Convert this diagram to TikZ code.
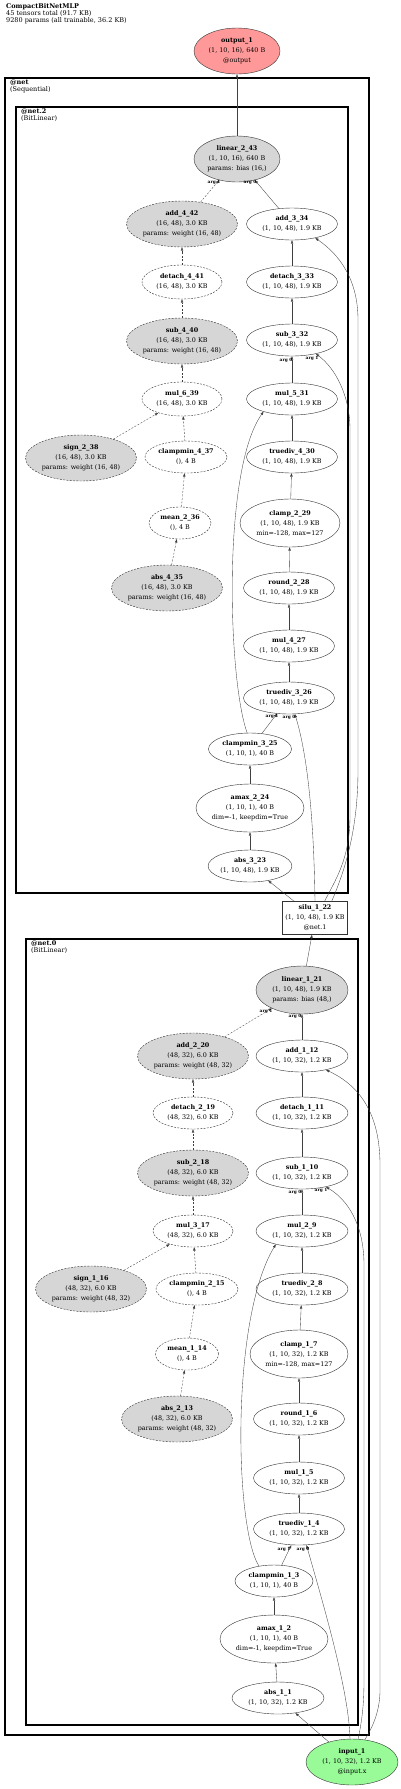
\documentclass[tikz,border=0pt]{standalone}
\usepackage{fontspec}
\setmainfont{DejaVu Serif}
\usetikzlibrary{shapes.geometric,arrows.meta}
\definecolor{outred}{HTML}{FF9999}
\definecolor{ingreen}{HTML}{98FB98}
\definecolor{prmgray}{HTML}{D6D6D6}

\begin{document}
\begin{tikzpicture}[x=1pt,y=-1pt,>={Triangle[length=3.4pt,width=2.4pt]},
  op/.style={ellipse,draw=black!80,line width=0.4pt,fill=white,inner sep=0pt,minimum width=91pt,minimum height=32pt,align=center,font=\fontsize{6.4}{10}\selectfont},
  prm/.style={op,fill=prmgray,minimum width=110pt,minimum height=46pt},
  wop/.style={dash pattern=on 2pt off 1.3pt},
  flow/.style={->,line width=0.35pt,draw=black!75},
  wflow/.style={flow,dash pattern=on 2pt off 1.5pt},
  arglbl/.style={inner sep=0pt,font=\fontsize{4.3}{5}\bfseries},
  clabel/.style={anchor=north west,align=left,inner sep=0pt,font=\fontsize{6.5}{7.2}\selectfont}]
  \useasboundingbox (0,0) rectangle (400,1789);

  \node[clabel] (title) at (6,3) {\textbf{CompactBitNetMLP}\\45 tensors total (91.7 KB)\\9280 params (all trainable, 36.2 KB)};

  \draw[line width=2.2pt] (5,78) rectangle (369,1735);
  \node[clabel] (lnet) at (10,80) {\textbf{@net}\\(Sequential)};
  \draw[line width=1.4pt] (16,107) rectangle (348,893);
  \node[clabel] (lnet2) at (21,108) {\textbf{@net.2}\\(BitLinear)};
  \draw[line width=1.4pt] (26,939) rectangle (358,1725);
  \node[clabel] (lnet0) at (31,940) {\textbf{@net.0}\\(BitLinear)};

  \node[op,fill=outred,minimum width=86pt,minimum height=46pt] (out1) at (237,51) {\textbf{output\_1}\\(1, 10, 16), 640 B\\@output};
  \node[op,fill=prmgray,minimum width=86pt,minimum height=46pt] (lin2) at (237,159) {\textbf{linear\_2\_43}\\(1, 10, 16), 640 B\\params: bias (16,)};
  \node[prm,wop] (add4) at (182,224) {\textbf{add\_4\_42}\\(16, 48), 3.0 KB\\params: weight (16, 48)};
  \node[op] (add3) at (292,224) {\textbf{add\_3\_34}\\(1, 10, 48), 1.9 KB};
  \node[op,wop,minimum width=80pt,minimum height=34pt] (det4) at (182,282) {\textbf{detach\_4\_41}\\(16, 48), 3.0 KB};
  \node[op] (det3) at (292,282) {\textbf{detach\_3\_33}\\(1, 10, 48), 1.9 KB};
  \node[prm,wop] (sub4) at (182,341) {\textbf{sub\_4\_40}\\(16, 48), 3.0 KB\\params: weight (16, 48)};
  \node[op] (sub3) at (292,340) {\textbf{sub\_3\_32}\\(1, 10, 48), 1.9 KB};
  \node[op,wop,minimum width=80pt,minimum height=34pt] (mul6) at (182,399) {\textbf{mul\_6\_39}\\(16, 48), 3.0 KB};
  \node[op] (mul5) at (292,399) {\textbf{mul\_5\_31}\\(1, 10, 48), 1.9 KB};
  \node[prm,wop] (sign2) at (81,458) {\textbf{sign\_2\_38}\\(16, 48), 3.0 KB\\params: weight (16, 48)};
  \node[op,wop,minimum width=82pt] (cmin4) at (186,457) {\textbf{clampmin\_4\_37}\\(), 4 B};
  \node[op] (tdv4) at (292,457) {\textbf{truediv\_4\_30}\\(1, 10, 48), 1.9 KB};
  \node[op,wop,minimum width=62pt] (mean2) at (180,523) {\textbf{mean\_2\_36}\\(), 4 B};
  \node[op,minimum width=100pt,minimum height=48pt] (clamp2) at (290,523) {\textbf{clamp\_2\_29}\\(1, 10, 48), 1.9 KB\\min=-128, max=127};
  \node[prm,wop] (abs4) at (167,588) {\textbf{abs\_4\_35}\\(16, 48), 3.0 KB\\params: weight (16, 48)};
  \node[op] (round2) at (289,588) {\textbf{round\_2\_28}\\(1, 10, 48), 1.9 KB};
  \node[op] (mul4) at (289,646) {\textbf{mul\_4\_27}\\(1, 10, 48), 1.9 KB};
  \node[op] (tdv3) at (289,698) {\textbf{truediv\_3\_26}\\(1, 10, 48), 1.9 KB};
  \node[op,minimum width=83pt] (cmin3) at (250,749) {\textbf{clampmin\_3\_25}\\(1, 10, 1), 40 B};
  \node[op,minimum width=108pt,minimum height=48pt] (amax2) at (250,808) {\textbf{amax\_2\_24}\\(1, 10, 1), 40 B\\dim=-1, keepdim=True};
  \node[op,minimum width=83pt] (abs3) at (250,866) {\textbf{abs\_3\_23}\\(1, 10, 48), 1.9 KB};
  \node[draw=black!80,line width=0.4pt,fill=white,minimum width=65pt,minimum height=33pt,inner sep=0pt,align=center,font=\fontsize{6.4}{10}\selectfont] (silu) at (315,918) {\textbf{silu\_1\_22}\\(1, 10, 48), 1.9 KB\\@net.1};

  \node[op,fill=prmgray,minimum width=92pt,minimum height=48pt] (lin1) at (302,990) {\textbf{linear\_1\_21}\\(1, 10, 48), 1.9 KB\\params: bias (48,)};
  \node[prm,wop] (add2) at (193,1056) {\textbf{add\_2\_20}\\(48, 32), 6.0 KB\\params: weight (48, 32)};
  \node[op,minimum width=92pt] (add1) at (302,1056) {\textbf{add\_1\_12}\\(1, 10, 32), 1.2 KB};
  \node[op,wop,minimum width=80pt] (det2) at (193,1113) {\textbf{detach\_2\_19}\\(48, 32), 6.0 KB};
  \node[op,minimum width=92pt] (det1) at (302,1113) {\textbf{detach\_1\_11}\\(1, 10, 32), 1.2 KB};
  \node[prm,wop] (sub2) at (193,1173) {\textbf{sub\_2\_18}\\(48, 32), 6.0 KB\\params: weight (48, 32)};
  \node[op,minimum width=92pt] (sub1) at (302,1173) {\textbf{sub\_1\_10}\\(1, 10, 32), 1.2 KB};
  \node[op,wop,minimum width=80pt] (mul3) at (193,1231) {\textbf{mul\_3\_17}\\(48, 32), 6.0 KB};
  \node[op,minimum width=92pt] (mul2) at (302,1231) {\textbf{mul\_2\_9}\\(1, 10, 32), 1.2 KB};
  \node[prm,wop] (sign1) at (91,1289) {\textbf{sign\_1\_16}\\(48, 32), 6.0 KB\\params: weight (48, 32)};
  \node[op,wop,minimum width=82pt] (cmin2) at (197,1289) {\textbf{clampmin\_2\_15}\\(), 4 B};
  \node[op,minimum width=92pt] (tdv2) at (302,1289) {\textbf{truediv\_2\_8}\\(1, 10, 32), 1.2 KB};
  \node[op,wop,minimum width=63pt] (mean1) at (187,1354) {\textbf{mean\_1\_14}\\(), 4 B};
  \node[op,minimum width=98pt,minimum height=48pt] (clamp1) at (299,1354) {\textbf{clamp\_1\_7}\\(1, 10, 32), 1.2 KB\\min=-128, max=127};
  \node[prm,wop] (abs2) at (177,1419) {\textbf{abs\_2\_13}\\(48, 32), 6.0 KB\\params: weight (48, 32)};
  \node[op] (round1) at (299,1419) {\textbf{round\_1\_6}\\(1, 10, 32), 1.2 KB};
  \node[op] (mul1) at (299,1478) {\textbf{mul\_1\_5}\\(1, 10, 32), 1.2 KB};
  \node[op] (tdv1) at (299,1529) {\textbf{truediv\_1\_4}\\(1, 10, 32), 1.2 KB};
  \node[op,minimum width=78pt] (cmin1) at (274,1581) {\textbf{clampmin\_1\_3}\\(1, 10, 1), 40 B};
  \node[op,minimum width=108pt,minimum height=48pt] (amax1) at (274,1639) {\textbf{amax\_1\_2}\\(1, 10, 1), 40 B\\dim=-1, keepdim=True};
  \node[op,minimum width=92pt] (abs1) at (278,1698) {\textbf{abs\_1\_1}\\(1, 10, 32), 1.2 KB};
  \node[op,fill=ingreen,minimum width=92pt,minimum height=46pt] (input) at (352,1762) {\textbf{input\_1}\\(1, 10, 32), 1.2 KB\\@input.x};

  \draw[flow] (lin2) -- (out1);
  \draw[wflow] (add4) -- (lin2);
  \draw[flow] (add3) -- (lin2);
  \draw[wflow] (det4) -- (add4);
  \draw[flow] (det3) -- (add3);
  \draw[wflow] (sub4) -- (det4);
  \draw[flow] (sub3) -- (det3);
  \draw[wflow] (mul6) -- (sub4);
  \draw[flow] (mul5) -- (sub3);
  \draw[wflow] (sign2) -- (mul6);
  \draw[wflow] (cmin4) -- (mul6);
  \draw[flow] (tdv4) -- (mul5);
  \draw[wflow] (mean2) -- (cmin4);
  \draw[flow] (clamp2) -- (tdv4);
  \draw[wflow] (abs4) -- (mean2);
  \draw[flow] (round2) -- (clamp2);
  \draw[flow] (mul4) -- (round2);
  \draw[flow] (tdv3) -- (mul4);
  \draw[flow] (cmin3) -- (tdv3);
  \draw[flow] (amax2) -- (cmin3);
  \draw[flow] (abs3) -- (amax2);
  \draw[flow] (silu) -- (abs3);
  \draw[flow] (cmin3.100) .. controls (228,680) and (222,470) .. (mul5.204);
  \draw[flow] (silu.north) .. controls (314,830) and (309,760) .. (tdv3.290);
  \draw[flow] (silu.60) .. controls (335,880) and (350,860) .. (350,815) -- (350,430) .. controls (350,395) and (335,368) .. (sub3.330);
  \draw[flow] (silu.45) .. controls (345,870) and (358,830) .. (358,770) -- (358,320) .. controls (358,280) and (340,255) .. (add3.329);

  \draw[flow] (lin1) -- (silu);
  \draw[wflow] (add2) -- (lin1);
  \draw[flow] (add1) -- (lin1);
  \draw[wflow] (det2) -- (add2);
  \draw[flow] (det1) -- (add1);
  \draw[wflow] (sub2) -- (det2);
  \draw[flow] (sub1) -- (det1);
  \draw[wflow] (mul3) -- (sub2);
  \draw[flow] (mul2) -- (sub1);
  \draw[wflow] (sign1) -- (mul3);
  \draw[wflow] (cmin2) -- (mul3);
  \draw[flow] (tdv2) -- (mul2);
  \draw[wflow] (mean1) -- (cmin2);
  \draw[flow] (clamp1) -- (tdv2);
  \draw[wflow] (abs2) -- (mean1);
  \draw[flow] (round1) -- (clamp1);
  \draw[flow] (mul1) -- (round1);
  \draw[flow] (tdv1) -- (mul1);
  \draw[flow] (cmin1) -- (tdv1);
  \draw[flow] (amax1) -- (cmin1);
  \draw[flow] (abs1) -- (amax1);
  \draw[flow] (input) -- (abs1);
  \draw[flow] (cmin1.135) .. controls (235,1530) and (230,1320) .. (mul2.207);
  \draw[flow] (input.95) .. controls (349,1690) and (322,1600) .. (tdv1.295);
  \draw[flow] (input.75) .. controls (362,1720) and (364,1705) .. (364,1680) -- (364,1265) .. controls (364,1225) and (348,1200) .. (sub1.330);
  \draw[flow] (input.60) .. controls (372,1728) and (380,1712) .. (380,1690) -- (380,1165) .. controls (380,1105) and (352,1082) .. (add1.330);

  \node[arglbl] (a21) at (214,182) {arg 1};
  \node[arglbl] (a20) at (250,182) {arg 0};
  \node[arglbl] (s30) at (286,360) {arg 0};
  \node[arglbl] (s31) at (312,358) {arg 1};
  \node[arglbl] (t31) at (272,716) {arg 1};
  \node[arglbl] (t30) at (289,717) {arg 0};
  \node[arglbl] (a11) at (266,1011) {arg 1};
  \node[arglbl] (a10) at (295,1016) {arg 0};
  \node[arglbl] (s10) at (295,1192) {arg 0};
  \node[arglbl] (s11) at (321,1190) {arg 1};
  \node[arglbl] (t11) at (284,1549) {arg 1};
  \node[arglbl] (t10) at (303,1549) {arg 0};
\end{tikzpicture}
\end{document}
